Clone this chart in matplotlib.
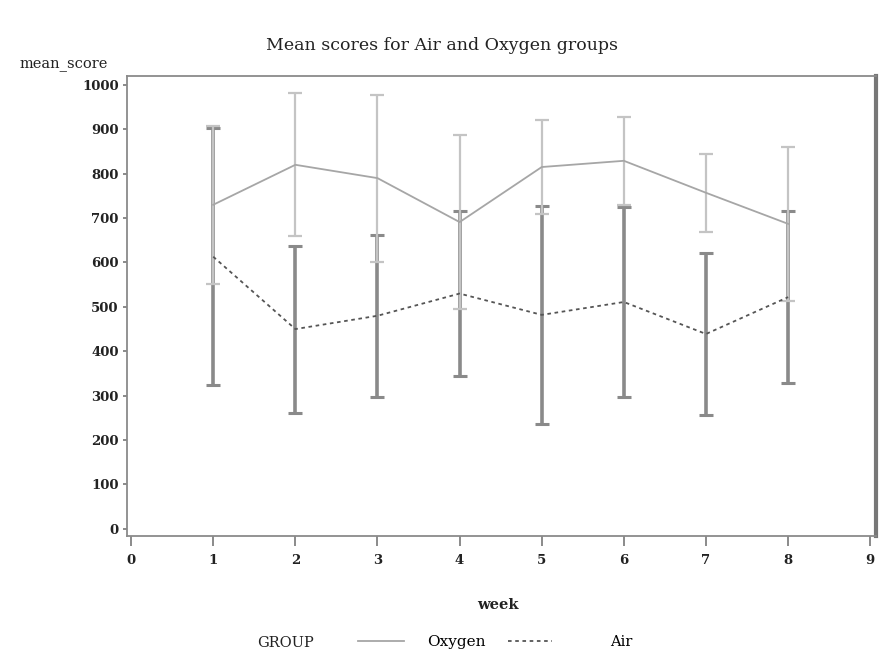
import matplotlib
matplotlib.use("Agg")
import matplotlib.pyplot as plt
from matplotlib.lines import Line2D

weeks = [1, 2, 3, 4, 5, 6, 7, 8]

# group means and half-widths of the error bars
oxygen_mean = [730, 820, 790, 691, 815, 829, 757, 687]
oxygen_err = [178, 161, 188, 196, 106, 99, 88, 173]
air_mean = [613, 450, 480, 530, 482, 511, 439, 522]
air_err = [290, 188, 182, 186, 245, 213, 183, 193]

plt.rcParams["font.family"] = ["DejaVu Serif"]

fig = plt.figure(figsize=(8.88, 6.55), dpi=100)
ax = fig.add_axes([127 / 888, 119 / 655, 749 / 888, 460 / 655])

# Air group: dark thick bars, dashed mean line
ax.errorbar(weeks, air_mean, yerr=air_err, fmt="none", ecolor="#8a8a8a",
            elinewidth=2.6, capsize=5, capthick=2.2, zorder=2)
ax.plot(weeks, air_mean, color="#555555", linestyle=(0, (2, 2)), lw=1.3, zorder=3)

# Oxygen group: light bars, solid mean line
ax.errorbar(weeks, oxygen_mean, yerr=oxygen_err, fmt="none", ecolor="#c4c4c4",
            elinewidth=1.6, capsize=5, capthick=1.6, zorder=2)
ax.plot(weeks, oxygen_mean, color="#a6a6a6", lw=1.3, zorder=3)

ax.set_xlim(-0.05, 9.07)
ax.set_ylim(-16, 1020)
ax.set_xticks(range(0, 10))
ax.set_yticks(range(0, 1001, 100))
ax.tick_params(axis="both", direction="out", width=1.2, color="#777777",
               labelsize=9.5, labelcolor="#222222")
ax.tick_params(axis="y", length=3, pad=3)
ax.tick_params(axis="x", length=7, pad=6)
for lbl in ax.get_xticklabels() + ax.get_yticklabels():
    lbl.set_fontweight("bold")

for side in ["left", "top", "bottom"]:
    ax.spines[side].set_color("#8a8a8a")
    ax.spines[side].set_linewidth(1.3)
ax.spines["right"].set_color("#777777")
ax.spines["right"].set_linewidth(3)

fig.text(442 / 888, 1 - 46 / 655, "Mean scores for Air and Oxygen groups",
         ha="center", va="center", fontsize=12.5, color="#222222")
fig.text(19 / 888, 1 - 64 / 655, "mean_score", ha="left", va="center",
         fontsize=10.5, color="#222222")
fig.text(498 / 888, 1 - 605 / 655, "week", ha="center", va="center",
         fontsize=10.5, fontweight="bold", color="#222222")

# legend row along the bottom
fig.text(257 / 888, 1 - 643 / 655, "GROUP", ha="left", va="center",
         fontsize=10.5, color="#222222")
fig.legend([Line2D([], [], color="#a6a6a6", lw=1.3)], ["Oxygen"], frameon=False,
           loc="center left", bbox_to_anchor=(352 / 888, 1 - 642 / 655),
           handlelength=3.0, handletextpad=1.5, borderaxespad=0,
           prop={"size": 11})
fig.legend([Line2D([], [], color="#555555", lw=1.3, linestyle=(0, (2, 2)))], ["Air"],
           frameon=False, loc="center left", bbox_to_anchor=(502 / 888, 1 - 642 / 655),
           handlelength=3.0, handletextpad=4.0, borderaxespad=0,
           prop={"size": 10.5})

fig.savefig("out.png", dpi=100)
